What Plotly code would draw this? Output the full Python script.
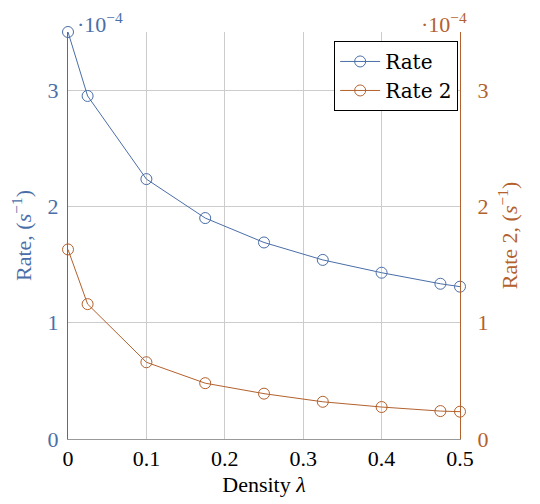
import plotly.graph_objects as go

density = [0, 0.025, 0.1, 0.175, 0.25, 0.325, 0.4, 0.475, 0.5]
rate = [3.5, 2.95, 2.235, 1.90, 1.69, 1.54, 1.43, 1.335, 1.31]
rate2 = [1.63, 1.16, 0.66, 0.48, 0.39, 0.32, 0.275, 0.24, 0.235]
x_ticks = [0, 0.1, 0.2, 0.3, 0.4, 0.5]
x_tick_labels = ["0", "0.1", "0.2", "0.3", "0.4", "0.5"]
y_ticks = [0, 1, 2, 3]

BLUE = "#4a6ea8"
ORANGE = "#b3612d"
FONT = "Liberation Serif"
FS = 22

fig = go.Figure()
fig.add_trace(go.Scatter(
    x=density, y=rate, name="Rate", mode="lines+markers", cliponaxis=False,
    line=dict(color=BLUE, width=1),
    marker=dict(symbol="circle-open", size=11, color=BLUE, line=dict(width=1)),
))
fig.add_trace(go.Scatter(
    x=density, y=rate2, name="Rate 2", mode="lines+markers", yaxis="y2", cliponaxis=False,
    line=dict(color=ORANGE, width=1),
    marker=dict(symbol="circle-open", size=11, color=ORANGE, line=dict(width=1)),
))

fig.update_layout(
    width=540, height=504,
    margin=dict(l=60, r=88, t=24, b=73),
    plot_bgcolor="white", paper_bgcolor="white",
    font=dict(family=FONT, size=FS, color="black"),
    showlegend=True,
    legend=dict(
        x=0.679, y=0.978, xanchor="left", yanchor="top",
        bordercolor="black", borderwidth=1, bgcolor="white",
        font=dict(family="DejaVu Serif", size=20, color="black"),
        tracegroupgap=0, itemwidth=40,
    ),
    xaxis=dict(
        range=[0, 0.5], tickvals=x_ticks, ticktext=x_tick_labels,
        showgrid=True, gridcolor="#cccccc", gridwidth=1,
        showline=True, linecolor="#999999", linewidth=1,
        zeroline=False, ticks="", automargin=False,
        title=dict(text="Density <i>λ</i>", font=dict(size=FS), standoff=6),
        tickfont=dict(size=FS, color="black"),
    ),
    yaxis=dict(
        range=[0, 3.5], tickvals=y_ticks,
        showgrid=True, gridcolor="#cccccc", gridwidth=1,
        showline=True, linecolor=BLUE, linewidth=1,
        zeroline=False, ticks="", automargin=False,
        ticklabelstandoff=4,
        tickfont=dict(size=FS, color=BLUE),
        title=dict(text="Rate, (<i>s</i><sup>−1</sup>)", font=dict(size=FS, color=BLUE), standoff=14),
    ),
    yaxis2=dict(
        range=[0, 3.5], tickvals=y_ticks, overlaying="y", side="right",
        showgrid=False, showline=True, linecolor=ORANGE, linewidth=1,
        zeroline=False, ticks="", automargin=False,
        ticklabelstandoff=12,
        tickfont=dict(size=FS, color=ORANGE),
        title=dict(text="Rate 2, (<i>s</i><sup>−1</sup>)", font=dict(size=FS, color=ORANGE), standoff=14),
    ),
)

fig.add_annotation(x=0, y=1, xref="paper", yref="paper", xanchor="left", yanchor="top",
                   xshift=8, yshift=24, showarrow=False, borderpad=0,
                   text="·10<sup>−4</sup>", font=dict(family=FONT, size=FS, color=BLUE))
fig.add_annotation(x=1, y=1, xref="paper", yref="paper", xanchor="right", yanchor="top",
                   xshift=8, yshift=24, showarrow=False, borderpad=0,
                   text="·10<sup>−4</sup>", font=dict(family=FONT, size=FS, color=ORANGE))

fig.write_html("out.html")
